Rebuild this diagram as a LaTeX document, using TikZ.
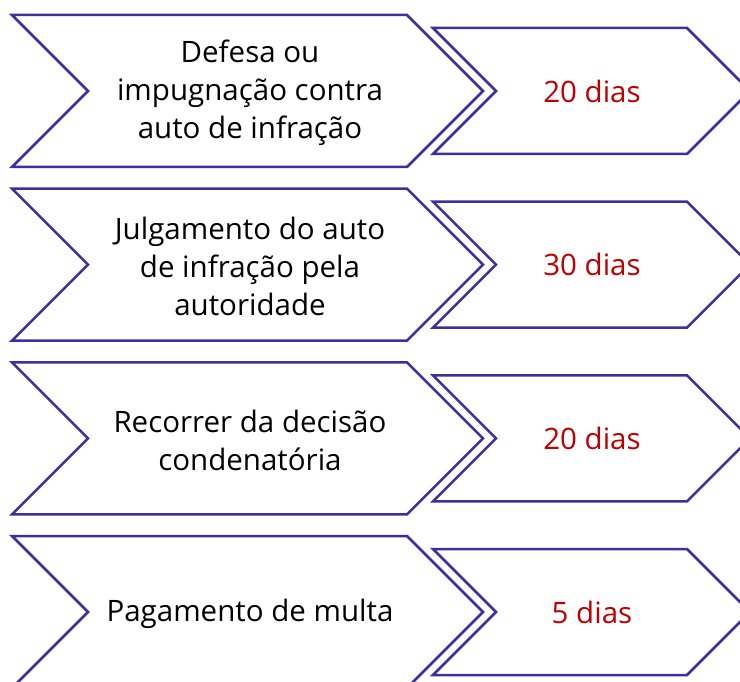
\documentclass[tikz,border=0pt]{standalone}
\usepackage{fontspec}
\setmainfont{Open Sans}
\definecolor{chevblue}{RGB}{60,48,160}
\definecolor{dayred}{RGB}{192,0,0}
\begin{document}
\begin{tikzpicture}[x=1pt,y=-1pt,
  chev/.style={draw=chevblue,line width=2.5pt,line join=miter,fill=white},
  steptext/.style={align=center,font=\fontsize{29.5}{38}\selectfont,text=black,inner sep=0pt},
  daytext/.style={font=\fontsize{29.5}{38}\selectfont,text=dayred,inner sep=0pt}]
\useasboundingbox (0,0) rectangle (740,682);
\clip (0,0) rectangle (740,682);
\foreach \i/\t/\txt/\d in {1/15/{Defesa ou\\impugnação contra\\auto de infração}/{20 dias},
  2/188.7/{Julgamento do auto\\de infração pela\\autoridade}/{30 dias},
  3/362.3/{Recorrer da decisão\\condenatória}/{20 dias},
  4/536/{Pagamento de multa}/{5 dias}}{
  \draw[chev] (12,\t) -- (407,\t) -- (483,\t+76) -- (407,\t+152) -- (12,\t+152) -- (88,\t+76) -- cycle;
  \draw[chev] (433,\t+13) -- (687,\t+13) -- (750,\t+76) -- (687,\t+139) -- (433,\t+139) -- (496,\t+76) -- cycle;
  \node[steptext] (s\i) at (250,\t+78) {\txt};
  \node[daytext] (d\i) at (592,\t+76) {\d};
}
\end{tikzpicture}
\end{document}
